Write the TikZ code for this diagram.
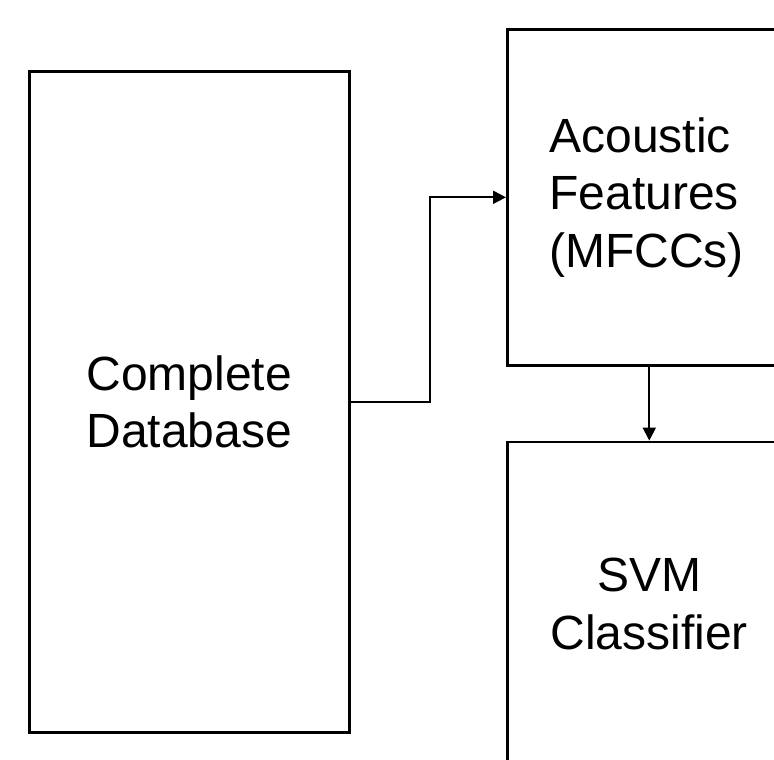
\documentclass[tikz,border=0pt]{standalone}
\usepackage{fontspec}
\setmainfont{Liberation Sans}
\usetikzlibrary{arrows.meta,positioning}

\begin{document}
\begin{tikzpicture}[
  x=1pt, y=-1pt,
  font=\fontsize{48}{57.6}\selectfont,
  blk/.style={draw, line width=2.6pt, align=center, inner sep=0pt},
  arr/.style={-{Triangle[length=13pt, width=13pt]}, line width=2pt},
]
\clip (0,0) rectangle (774,760);

% The three stages: database, features, classifier.
\node[blk, minimum width=320pt, minimum height=661pt, anchor=north west] (dbase) at (28,70)
  {Complete\\Database};
\node[blk, align=left, text width=190pt, inner xsep=42pt, minimum height=336pt,
      anchor=north west] (acf) at (506,28)
  {Acoustic\\Features\\(MFCCs)};
\node[blk, minimum width=284pt, minimum height=324pt,
      below=74pt of acf.south west, anchor=north west] (svm)
  {SVM\\Classifier};

\draw[arr] (dbase.east) -- ++(79,0) |- (acf.west);
\draw[arr] (acf.south -| svm.north) -- (svm.north);

\end{tikzpicture}
\end{document}
